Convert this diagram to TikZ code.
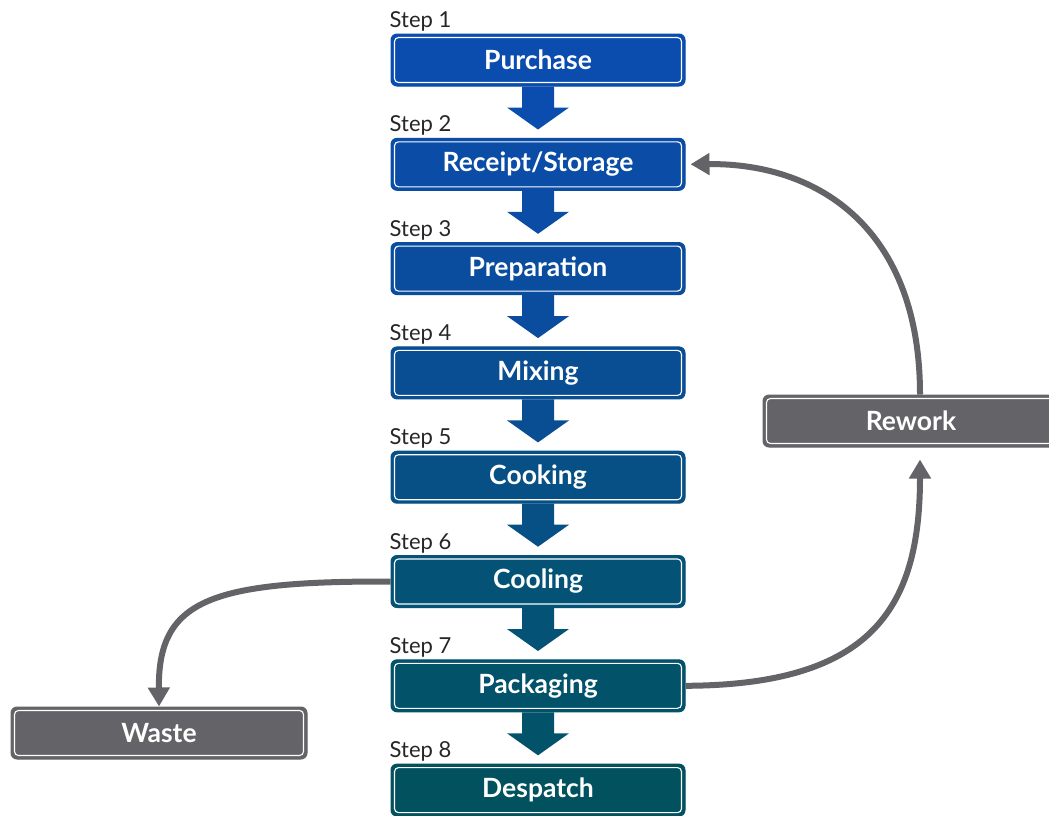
\documentclass[tikz,border=0pt]{standalone}
\usepackage{fontspec}
\setmainfont{Lato}
\usetikzlibrary{arrows.meta}
\definecolor{cA}{HTML}{0A4DAF}
\definecolor{cB}{HTML}{0A4CA6}
\definecolor{cC}{HTML}{0A4C9D}
\definecolor{cD}{HTML}{094D93}
\definecolor{cE}{HTML}{075086}
\definecolor{cF}{HTML}{045377}
\definecolor{cG}{HTML}{02526A}
\definecolor{cH}{HTML}{02515E}
\definecolor{gry}{HTML}{646468}
\tikzset{
  box/.style={fill=#1, draw=#1, line width=1pt, rounded corners=6pt,
    minimum width=294pt, minimum height=52pt, inner sep=0pt,
    text=white, font=\fontsize{26.5}{29}\selectfont\bfseries,
    path picture={\draw[white, line width=1.1pt, rounded corners=4pt]
      ([shift={(3.5pt,-3.5pt)}]path picture bounding box.north west) rectangle
      ([shift={(-3.5pt,3.5pt)}]path picture bounding box.south east);}},
  steplbl/.style={anchor=base west, inner sep=0pt, font=\fontsize{22}{24}\selectfont, text=black!85},
  conn/.style={draw=gry, line width=6pt, -{Triangle[length=19pt,width=21pt]}},
}
\begin{document}
\begin{tikzpicture}[x=1pt,y=-1pt]
\clip (0,0) rectangle (1049,815);
\fill[white] (0,0) rectangle (1049,815);
\foreach \i/\t/\c in {1/Purchase/cA,2/Receipt\slash Storage/cB,3/Preparation/cC,4/Mixing/cD,5/Cooking/cE,6/Cooling/cF,7/Packaging/cG,8/Despatch/cH}{
  \node[box=\c] (s\i) at (538,{60+104.3*(\i-1)}) {\t};
  \node[steplbl] (l\i) at ([shift={(-1pt,6pt)}]s\i.north west) {Step \i};
}
\foreach \a/\b/\c in {1/2/cA,2/3/cB,3/4/cC,4/5/cD,5/6/cE,6/7/cF,7/8/cG}{
  \fill[\c] ([xshift=-16pt]s\a.south) -- ([xshift=16pt]s\a.south)
    -- ([shift={(16pt,-21pt)}]s\a.south) -- ([shift={(31pt,-21pt)}]s\a.south)
    -- ([yshift=-43pt]s\a.south) -- ([shift={(-31pt,-21pt)}]s\a.south)
    -- ([shift={(-16pt,-21pt)}]s\a.south) -- cycle;
}
\node[box=gry, minimum width=296pt] (rw) at (911,421) {Rework};
\node[box=gry, minimum width=296pt] (ws) at (159,733) {Waste};
\draw[conn] (s6.west) .. controls (210,581) and (158,600) .. (ws.north);
\draw[conn, shorten >=12pt] (s7.east) .. controls (870,685) and (920,610) .. ([xshift=9pt]rw.south);
\draw[conn, shorten >=5pt] ([xshift=9pt]rw.north) .. controls (920,230) and (820,163) .. (s2.east);
\end{tikzpicture}
\end{document}
